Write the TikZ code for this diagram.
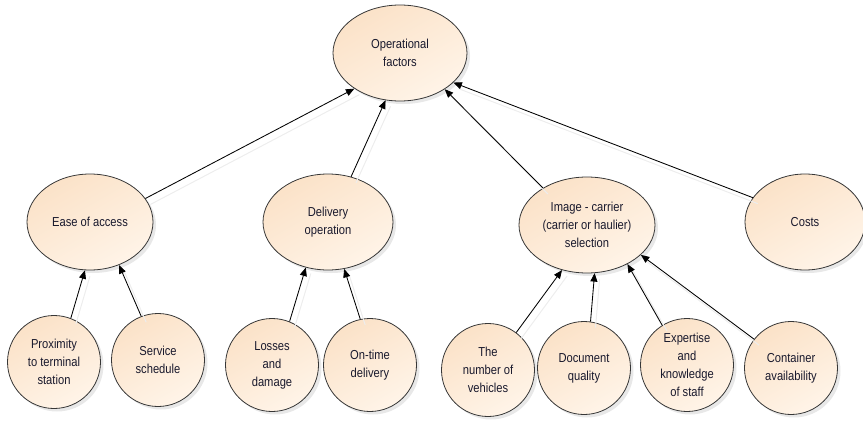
\documentclass[tikz,border=0pt]{standalone}
\usepackage{fontspec}
\setmainfont[FakeStretch=0.86]{Liberation Sans}
\usetikzlibrary{arrows.meta,shadows,shapes.geometric}
\definecolor{peachA}{RGB}{251,226,200}
\definecolor{peachB}{RGB}{255,244,232}
\definecolor{edgegray}{RGB}{55,55,55}
\definecolor{txt}{RGB}{25,25,45}
\tikzset{
  bubble/.style={ellipse, draw=edgegray, line width=0.8pt, inner sep=0pt,
    top color=peachA, bottom color=peachB, shading angle=30,
    drop shadow={opacity=0.18, shadow xshift=3pt, shadow yshift=-3pt},
    align=center, text=txt, font=\fontsize{13}{18}\selectfont},
  ell/.style={bubble, minimum height=96pt},
  circ/.style={bubble, minimum width=93pt, minimum height=93pt},
  link/.style={draw=black, line width=0.85pt, -{Triangle[length=8.5pt,width=7pt]}},
  ghost/.style={draw=black!7, line width=1pt, transform canvas={shift={(5pt,-6pt)}}}
}
\begin{document}
\begin{tikzpicture}[x=1pt,y=1pt]
\useasboundingbox (0,0) rectangle (863,-423);
% nodes
\node[ell, minimum width=134pt] (of) at (400,-53) {Operational\\factors};
\node[ell, minimum width=126pt] (ease) at (90,-222) {Ease of access};
\node[ell, minimum width=130pt] (del) at (328,-222) {Delivery\\operation};
\node[ell, minimum width=136pt] (img) at (587,-225) {Image - carrier\\(carrier or haulier)\\selection};
\node[ell, minimum width=120pt] (cost) at (805,-222) {Costs};
\node[circ] (prox) at (54,-362) {Proximity\\to terminal\\station};
\node[circ] (serv) at (158,-360) {Service\\schedule};
\node[circ] (loss) at (272,-365) {Losses\\and\\damage};
\node[circ] (ontime) at (370,-365) {On-time\\delivery};
\node[circ] (veh) at (488,-370) {The\\number of\\vehicles};
\node[circ] (doc) at (584,-368) {Document\\quality};
\node[circ] (exp) at (687,-365) {Expertise\\and\\knowledge\\of staff};
\node[circ] (cont) at (791,-368) {Container\\availability};
% ghost lines (connector shadows)
\path[ghost] (ease.23) -- (of.218);
\path[ghost] (del.63) -- (of.253);
\path[ghost] (img.140) -- (of.321);
\path[ghost] (cost.155) -- (of.331);
\path[ghost] (prox.69) -- (ease.264);
\path[ghost] (serv.111) -- (ease.304);
\path[ghost] (loss.68) -- (del.244);
\path[ghost] (ontime.102) -- (del.289);
\path[ghost] (veh.53) -- (img.241);
\path[ghost] (doc.82) -- (img.279);
\path[ghost] (exp.122) -- (img.316);
\path[ghost] (cont.142) -- (img.331);
% connectors
\draw[link] (ease.23) -- (of.218);
\draw[link] (del.63) -- (of.253);
\draw[link] (img.140) -- (of.321);
\draw[link] (cost.155) -- (of.331);
\draw[link] (prox.69) -- (ease.264);
\draw[link] (serv.111) -- (ease.304);
\draw[link] (loss.68) -- (del.244);
\draw[link] (ontime.102) -- (del.289);
\draw[link] (veh.53) -- (img.241);
\draw[link] (doc.82) -- (img.279);
\draw[link] (exp.122) -- (img.316);
\draw[link] (cont.142) -- (img.331);
\end{tikzpicture}
\end{document}
